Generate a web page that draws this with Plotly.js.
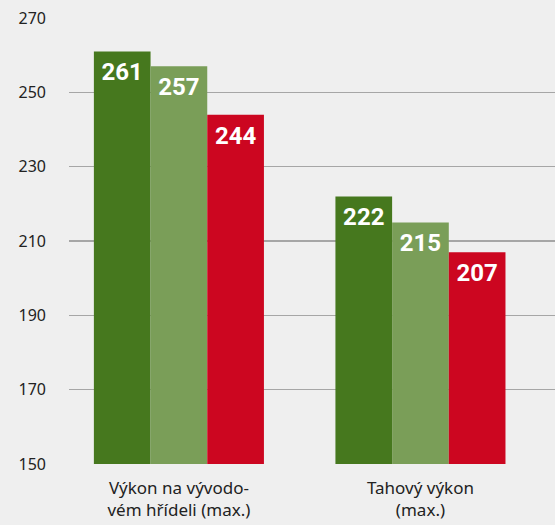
<!DOCTYPE html>
<html><head><meta charset="utf-8">
<script src="https://cdn.plot.ly/plotly-3.0.1.min.js"></script>
<style>html,body{margin:0;padding:0;background:#efefef}#chart{width:555px;height:525px}</style>
</head><body><div id="chart"></div>
<script>
const categories = ["Výkon na vývodo-<br>vém hřídeli (max.)", "Tahový výkon<br>(max.)"];
const seriesA = [261, 222];
const seriesB = [257, 215];
const seriesC = [244, 207];
const yTicks = [150, 170, 190, 210, 230, 250, 270];

const colors = ["#46781e", "#7a9e58", "#cc0620"];
const fontFam = "'Noto Sans', sans-serif";
const numFam = "Roboto, sans-serif";
function bar(vals, color, g) {
  return {
    type: "bar", x: categories, y: vals, marker: {color: color, line: {width: 0}},
    offsetgroup: g, hoverinfo: "none"
  };
}
function lbl(vals, g) {
  return {
    type: "scatter", mode: "markers+text", x: categories, y: vals, offsetgroup: g,
    text: vals.map(String), textposition: "bottom center",
    marker: {size: 16, color: "rgba(0,0,0,0)", line: {width: 0}},
    textfont: {family: numFam, size: 24, color: "#ffffff", weight: 700},
    hoverinfo: "none", cliponaxis: false
  };
}
const data = [
  bar(seriesA, colors[0], "a"), bar(seriesB, colors[1], "b"), bar(seriesC, colors[2], "c"),
  lbl(seriesA, "a"), lbl(seriesB, "b"), lbl(seriesC, "c")
];
const layout = {
  width: 555, height: 525,
  margin: {l: 69, r: 0, t: 18, b: 61},
  paper_bgcolor: "#efefef", plot_bgcolor: "rgba(0,0,0,0)",
  barmode: "group", bargap: 0.296, bargroupgap: 0,
  scattermode: "group", scattergap: 0.296,
  showlegend: false,
  font: {family: fontFam, color: "#222"},
  xaxis: {type: "category", range: [-0.455, 1.557], showgrid: false, showline: false, zeroline: false,
          ticks: "", ticklabelstandoff: 12, tickfont: {size: 17, color: "#222"}, fixedrange: true},
  yaxis: {range: [150, 270], tickvals: yTicks, ticktext: yTicks.map(String),
          showgrid: true, gridcolor: "#a6a6a6", gridwidth: 1.3, zeroline: false, showline: false,
          ticks: "", ticklabelstandoff: 22, tickfont: {size: 16, color: "#222"}, fixedrange: true}
};
Plotly.newPlot("chart", data, layout, {displayModeBar: false, staticPlot: true});
</script></body></html>
